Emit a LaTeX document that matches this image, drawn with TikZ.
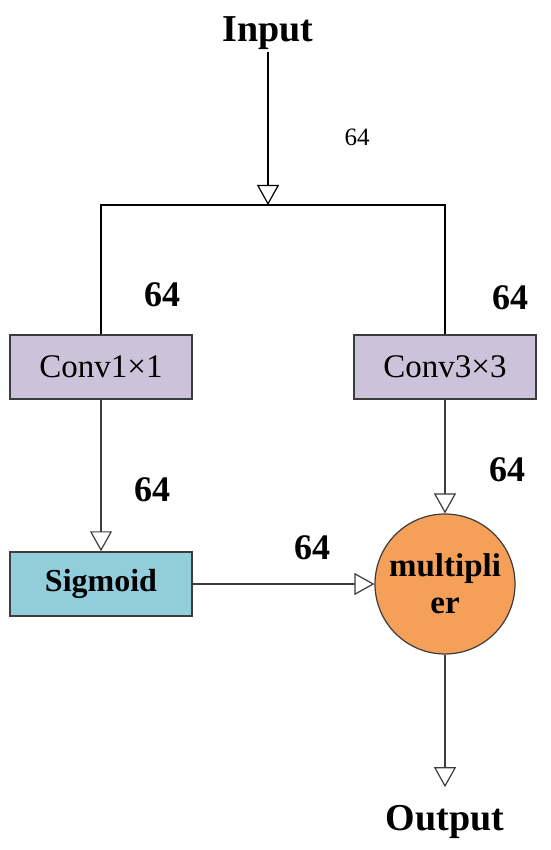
\documentclass[tikz,border=0pt]{standalone}
\usepackage{fontspec}
\setmainfont{Liberation Serif}
\usetikzlibrary{arrows.meta,positioning}
\definecolor{convlilac}{RGB}{204,194,218}
\definecolor{sigblue}{RGB}{146,205,220}
\definecolor{multorange}{RGB}{245,160,88}
\definecolor{edgegrey}{RGB}{60,60,60}
\tikzset{
  base/.style={align=center, inner sep=2pt, text=black},
  box/.style={base, rectangle, draw=edgegrey, line width=1.5pt, minimum width=182pt, minimum height=64pt, font=\fontsize{33}{36}\selectfont},
  conv/.style={box, fill=convlilac},
  sig/.style={box, fill=sigblue, font=\fontsize{32}{36}\selectfont\bfseries},
  mul/.style={base, circle, draw=edgegrey, fill=multorange, line width=1.2pt, minimum size=140pt, inner sep=0pt, font=\fontsize{33}{37}\selectfont\bfseries},
  io/.style={base, font=\fontsize{38}{42}\selectfont\bfseries},
  num/.style={font=\fontsize{36}{38}\selectfont\bfseries, inner sep=0pt},
  numsmall/.style={font=\fontsize{25}{28}\selectfont, inner sep=0pt},
  tip/.style={-{Triangle[length=20pt,width=22pt,fill=white,line width=1.2pt]}},
  thick line/.style={line width=2.5pt, draw=black},
  arr/.style={tip, line width=2.5pt, draw=black},
  arrthin/.style={tip, line width=1.5pt, draw=edgegrey},
}
\begin{document}
\begin{tikzpicture}[x=1pt,y=-1pt]
  \useasboundingbox (0,0) rectangle (550,850);
  \node[io] (input) at (268,33) {Input};
  \coordinate (split) at (268,205);
  \node[conv] (conv1) at (101,367) {Conv1×1};
  \node[conv] (conv3) at (445,367) {Conv3×3};
  \node[sig] (sigmoid) at (101,584) {Sigmoid};
  \node[mul] (mult) at (445,584) {multipli\\er};
  \node[io] (output) at (445,822) {Output};
  % channel counts
  \node[numsmall] (n0) at (357,137) {64};
  \node[num] (n1) at (162,295) {64};
  \node[num] (n2) at (510,298) {64};
  \node[num] (n3) at (152,490) {64};
  \node[num] (n4) at (507,470) {64};
  \node[num] (n5) at (312,548) {64};
  % connectors
  \draw[arr] (input) -- (split);
  \draw[thick line] (conv1.north) |- (split) -| (conv3.north);
  \draw[arrthin] (conv1) -- (sigmoid);
  \draw[arrthin] (conv3) -- (mult);
  \draw[arrthin] (sigmoid) -- (mult);
  \draw[arrthin] (mult) -- ([yshift=16pt]output.north);
\end{tikzpicture}
\end{document}
